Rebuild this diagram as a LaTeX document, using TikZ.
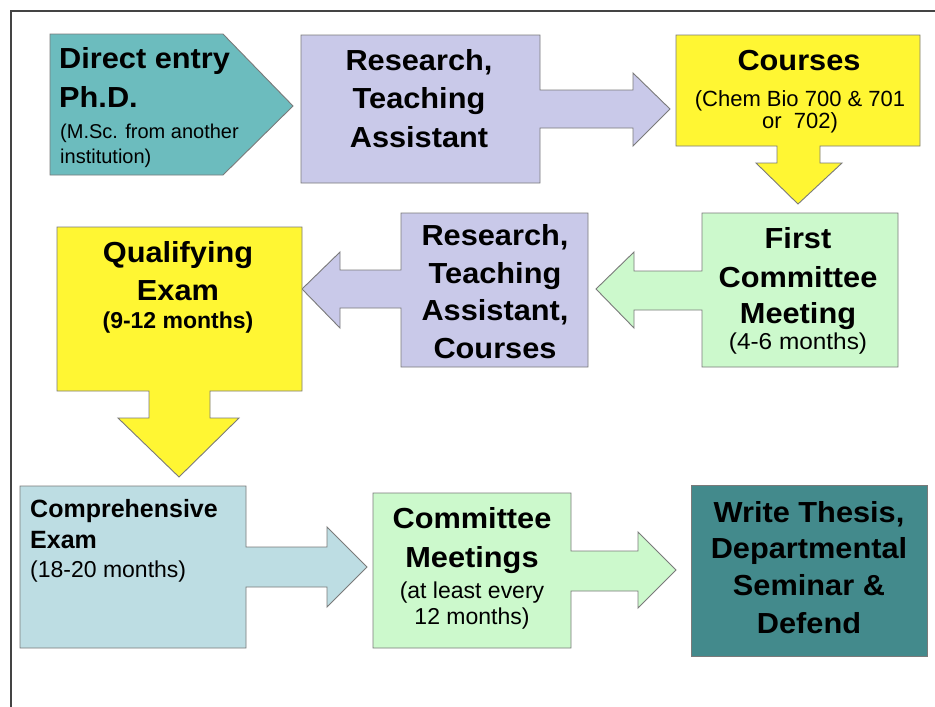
\documentclass[tikz,border=0pt]{standalone}
\usepackage{fontspec}
\setmainfont{Liberation Sans}
\newcommand\hx[1]{\scalebox{1.06}[1]{#1}}
\definecolor{cteal}{HTML}{6CBCBE}
\definecolor{clav}{HTML}{C9C9E9}
\definecolor{cyel}{HTML}{FFF633}
\definecolor{cgrn}{HTML}{CCF9CC}
\definecolor{cblu}{HTML}{BDDDE3}
\definecolor{cdark}{HTML}{438A8C}
\definecolor{cline}{HTML}{7A7A7A}
\definecolor{cframe}{HTML}{444444}
\tikzset{
  shp/.style={draw=cline, line width=0.9pt, line join=miter},
  hd/.style={font=\bfseries\fontsize{29}{29}\selectfont, anchor=base, inner sep=0pt},
  hdl/.style={hd, anchor=base west},
  hds/.style={font=\bfseries\fontsize{25}{25}\selectfont, anchor=base west, inner sep=0pt},
  sb/.style={font=\fontsize{23}{23}\selectfont, anchor=base, inner sep=0pt},
  sbl/.style={sb, anchor=base west},
  sbb/.style={font=\bfseries\fontsize{23}{23}\selectfont, anchor=base, inner sep=0pt},
}
\begin{document}
\begin{tikzpicture}[x=1pt,y=-1pt]
\useasboundingbox (0,0) rectangle (935,707);
\fill[white] (0,0) rectangle (935,707);
% frame
\draw[cframe, line width=2.5pt] (11,707) -- (11,11) -- (935,11);

% shapes
\draw[shp, fill=cteal] (50,34) -- (223,34) -- (293,106) -- (223,175) -- (50,175) -- cycle;
\draw[shp, fill=clav] (301,35) -- (540,35) -- (540,90) -- (633,90) -- (633,73) -- (670,109) -- (633,146) -- (633,128) -- (540,128) -- (540,183) -- (301,183) -- cycle;
\draw[shp, fill=cyel] (676,35) -- (920,35) -- (920,146) -- (820,146) -- (820,163) -- (842,163) -- (798,204) -- (756,163) -- (777,163) -- (777,146) -- (676,146) -- cycle;
\draw[shp, fill=cgrn] (702,213) -- (898,213) -- (898,367) -- (702,367) -- (702,310) -- (634,310) -- (634,328) -- (596,289) -- (634,252) -- (634,271) -- (702,271) -- cycle;
\draw[shp, fill=clav] (401,213) -- (588,213) -- (588,367) -- (401,367) -- (401,308) -- (340,308) -- (340,328) -- (302,289) -- (340,252) -- (340,270) -- (401,270) -- cycle;
\draw[shp, fill=cyel] (57,227) -- (302,227) -- (302,391) -- (210,391) -- (210,418) -- (239,418) -- (179,477) -- (118,418) -- (149,418) -- (149,391) -- (57,391) -- cycle;
\draw[shp, fill=cblu] (20,486) -- (246,486) -- (246,547) -- (327,547) -- (327,527) -- (367,567) -- (327,607) -- (327,587) -- (246,587) -- (246,648) -- (20,648) -- cycle;
\draw[shp, fill=cgrn] (373,493) -- (571,493) -- (571,551) -- (638,551) -- (638,532) -- (676,570) -- (638,608) -- (638,591) -- (571,591) -- (571,648) -- (373,648) -- cycle;
\draw[shp, fill=cdark] (691,485) rectangle (927,656);

% texts
\node[hdl] (d1) at (59,68) {\hx{Direct entry}};
\node[hdl] (d2) at (59,107) {\hx{Ph.D.}};
\node[sbl, font=\fontsize{20}{20}\selectfont] (d3) at (60,138) {(M.Sc. from another};
\node[sbl, font=\fontsize{20}{20}\selectfont] (d4) at (60,163) {institution)};

\node[hd] (r1) at (419,70) {\hx{Research,}};
\node[hd] (r2) at (419,108) {\hx{Teaching}};
\node[hd] (r3) at (419,147) {\hx{Assistant}};

\node[hd] (c1) at (799,70) {\hx{Courses}};
\node[sb, font=\fontsize{22}{22}\selectfont] (c2) at (800,106) {(Chem Bio 700 \& 701};
\node[sb, font=\fontsize{22}{22}\selectfont] (c3) at (800,128) {or~ 702)};

\node[hd] (f1) at (798,248) {\hx{First}};
\node[hd] (f2) at (798,287) {\hx{Committee}};
\node[hd] (f3) at (798,323) {\hx{Meeting}};
\node[sb] (f4) at (798,349) {\hx{(4-6 months)}};

\node[hd] (q1) at (495,245) {\hx{Research,}};
\node[hd] (q2) at (495,283) {\hx{Teaching}};
\node[hd] (q3) at (495,320) {\hx{Assistant,}};
\node[hd] (q4) at (495,358) {\hx{Courses}};

\node[hd] (e1) at (178,262) {\hx{Qualifying}};
\node[hd] (e2) at (178,300) {\hx{Exam}};
\node[sbb] (e3) at (178,328) {(9-12 months)};

\node[hds] (p1) at (30,517) {Comprehensive};
\node[hds] (p2) at (30,548) {Exam};
\node[sbl] (p3) at (30,577) {(18-20 months)};

\node[hd] (m1) at (472,528) {\hx{Committee}};
\node[hd] (m2) at (472,567) {\hx{Meetings}};
\node[sb] (m3) at (472,598) {(at least every};
\node[sb] (m4) at (472,624) {12 months)};

\node[hd] (w1) at (809,522) {\hx{Write Thesis,}};
\node[hd] (w2) at (809,558) {\hx{Departmental}};
\node[hd] (w3) at (809,595) {\hx{Seminar \&}};
\node[hd] (w4) at (809,633) {\hx{Defend}};
\end{tikzpicture}
\end{document}
